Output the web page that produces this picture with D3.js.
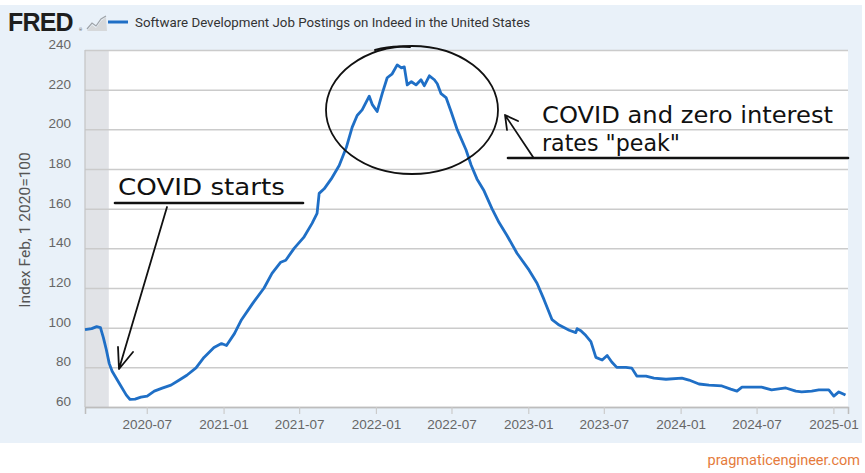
<!DOCTYPE html>
<html>
<head>
<meta charset="utf-8">
<script src="https://cdn.jsdelivr.net/npm/d3@7"></script>
<style>
    body { margin: 0; background: #fff; }
    svg { display: block; font-family: "Roboto", "Liberation Sans", sans-serif; }
</style>
</head>
<body>
<svg id="chart" width="865" height="473"></svg>
<script>
// values (index, Feb 1 2020 = 100)
const dates = [
    "2020-02-04", "2020-02-20", "2020-03-03", "2020-03-12", "2020-03-19", "2020-03-26", "2020-04-02",
    "2020-04-09", "2020-04-26", "2020-05-13", "2020-05-22", "2020-06-03", "2020-06-17", "2020-07-02",
    "2020-07-19", "2020-08-07", "2020-08-28", "2020-09-16", "2020-10-05", "2020-10-27", "2020-11-15",
    "2020-12-09", "2020-12-27", "2021-01-08", "2021-01-27", "2021-02-13", "2021-03-11", "2021-04-08",
    "2021-04-27", "2021-05-18", "2021-05-30", "2021-06-19", "2021-07-12", "2021-08-01", "2021-08-13",
    "2021-08-18", "2021-08-30", "2021-09-16", "2021-10-05", "2021-10-22", "2021-11-05", "2021-11-17",
    "2021-11-29", "2021-12-16", "2021-12-23", "2022-01-04", "2022-01-16", "2022-01-28", "2022-02-09",
    "2022-02-21", "2022-03-03", "2022-03-10", "2022-03-17", "2022-03-27", "2022-04-07", "2022-04-19",
    "2022-04-27", "2022-05-09", "2022-05-21", "2022-05-28", "2022-06-06", "2022-06-18", "2022-06-30",
    "2022-07-15", "2022-08-05", "2022-08-17", "2022-08-31", "2022-09-17", "2022-10-06", "2022-10-23",
    "2022-11-11", "2022-12-05", "2023-01-03", "2023-01-22", "2023-02-08", "2023-02-27", "2023-03-16",
    "2023-04-09", "2023-04-25", "2023-04-28", "2023-05-07", "2023-05-19", "2023-05-31", "2023-06-12",
    "2023-06-27", "2023-07-09", "2023-07-20", "2023-08-01", "2023-08-23", "2023-09-06", "2023-09-18",
    "2023-10-10", "2023-10-29", "2023-11-27", "2024-01-04", "2024-01-21", "2024-02-14", "2024-03-09",
    "2024-04-09", "2024-04-30", "2024-05-15", "2024-05-27", "2024-06-20", "2024-07-13", "2024-08-06",
    "2024-09-09", "2024-10-03", "2024-10-17", "2024-11-10", "2024-11-27", "2024-12-21", "2025-01-02",
    "2025-01-14", "2025-01-30"
];
const postings = [
    99, 99.5, 100.5, 100, 95, 89, 82,
    78, 72, 66, 63.8, 64, 65, 65.5,
    68, 69.5, 71, 73.5, 76, 79.7, 85,
    90, 92, 91, 97, 104, 112, 120,
    127.4, 133, 134, 140, 145.5, 152.6, 157.6,
    167.7, 170, 175, 181.8, 190.8, 201, 207,
    209.8, 216.7, 212.6, 209, 218, 226, 228,
    232.5, 231, 231.5, 222.4, 224, 222.4, 225,
    222, 227, 225, 223, 218, 216, 209,
    199.7, 189.6, 182, 175, 169, 160, 153,
    146.5, 137.5, 129, 122.4, 114, 104, 101.3,
    98.7, 97.5, 99.5, 98.5, 96, 93, 85,
    83.7, 86, 82.7, 80, 80, 79.6, 75.6,
    75.6, 74.6, 74, 74.6, 73.6, 71.6, 71,
    70.6, 69, 68, 70, 70, 70, 68.6,
    69.6, 68, 67.6, 68, 68.6, 68.6, 65.5,
    67.6, 66
];
const yTicks = [60, 80, 100, 120, 140, 160, 180, 200, 220, 240];
const xTickLabels = ["2020-07", "2021-01", "2021-07", "2022-01", "2022-07", "2023-01", "2023-07", "2024-01", "2024-07", "2025-01"];
const recession = ["2020-02-01", "2020-04-01"];

const parse = d3.timeParse("%Y-%m-%d");
const series = dates.map((d, i) => ({ date: parse(d), value: postings[i] }));

const svg = d3.select("#chart");
const plotL = 85, plotR = 848, plotT = 50, plotB = 407;

const x = d3.scaleTime()
    .domain([parse("2020-02-04"), parse("2025-02-05")])
    .range([plotL, plotR]);
const y = d3.scaleLinear()
    .domain([60, 240])
    .range([plotB, plotT]);

// light blue FRED panel
svg.append("rect")
    .attr("x", 0).attr("y", 5)
    .attr("width", 862).attr("height", 438)
    .attr("fill", "#e9f1f9");

// plot area
svg.append("rect")
    .attr("x", plotL).attr("y", plotT)
    .attr("width", plotR - plotL).attr("height", plotB - plotT)
    .attr("fill", "#fff");

// recession shading
svg.append("rect")
    .attr("x", plotL)
    .attr("y", plotT)
    .attr("width", x(parse(recession[1])) - plotL)
    .attr("height", plotB - plotT)
    .attr("fill", "#e1e3e7");

// horizontal grid + y labels
const yAxis = svg.append("g")
    .attr("transform", `translate(${plotL},0)`)
    .call(d3.axisLeft(y).tickValues(yTicks).tickSize(-(plotR - plotL)).tickPadding(14));
yAxis.select(".domain").remove();
yAxis.selectAll(".tick line").attr("stroke", "#cbcbcb").attr("stroke-width", 1.5);
yAxis.selectAll(".tick text")
    .attr("dy", "-0.1em")
    .attr("fill", "#666")
    .attr("font-size", 13.5);

// x axis with ticks hanging below baseline
const xAxis = svg.append("g")
    .attr("transform", `translate(0,${plotB})`)
    .call(d3.axisBottom(x)
        .tickValues(xTickLabels.map(s => parse(s + "-01")))
        .tickFormat(d3.timeFormat("%Y-%m"))
        .tickSize(7)
        .tickPadding(5));
xAxis.select(".domain").attr("stroke", "#bdbdbd").attr("stroke-width", 1.5);
xAxis.selectAll(".tick line").attr("stroke", "#cbcbcb").attr("stroke-width", 1.2);
xAxis.selectAll(".tick text").attr("fill", "#666").attr("font-size", 13.5);

// left border of plot
svg.append("line")
    .attr("x1", plotL).attr("x2", plotL)
    .attr("y1", plotT).attr("y2", plotB)
    .attr("stroke", "#c4c4c4").attr("stroke-width", 1.2);

// y axis title
svg.append("text")
    .attr("transform", "translate(30,230) rotate(-90)")
    .attr("text-anchor", "middle")
    .attr("fill", "#555")
    .attr("font-size", 15.5)
    .text("Index Feb, 1 2020=100");

// the series
const line = d3.line()
    .x(d => x(d.date))
    .y(d => y(d.value));

svg.append("path")
    .datum(series)
    .attr("fill", "none")
    .attr("stroke", "#1f6fc6")
    .attr("stroke-width", 2.8)
    .attr("stroke-linejoin", "round")
    .attr("d", line);

// header: logo + legend
svg.append("text")
    .attr("x", 8).attr("y", 31)
    .attr("font-family", "'Liberation Sans', Arial, sans-serif")
    .attr("font-weight", 900)
    .attr("font-size", 25)
    .attr("letter-spacing", -0.8)
    .attr("fill", "#1e1e1e")
    .text("FRED");
svg.append("text")
    .attr("x", 79).attr("y", 31)
    .attr("font-size", 4)
    .attr("fill", "#444")
    .text("®");
// tiny chart icon
const icon = svg.append("g").attr("transform", "translate(86,16)");
icon.append("path")
    .attr("d", "M1,15 L6,9 L10,12 L15,5 L20,1 L21,15 Z")
    .attr("fill", "#d6d8da");
icon.append("path")
    .attr("d", "M1,13 L6,7 L10,10 L15,3 L20,0")
    .attr("fill", "none").attr("stroke", "#9ea3a8").attr("stroke-width", 1.2);

svg.append("line")
    .attr("x1", 108).attr("x2", 128)
    .attr("y1", 22).attr("y2", 22)
    .attr("stroke", "#1f6fc6").attr("stroke-width", 3);
svg.append("text")
    .attr("x", 135).attr("y", 27)
    .attr("font-size", 13.3)
    .attr("fill", "#333")
    .text("Software Development Job Postings on Indeed in the United States");

// hand-drawn annotations
const ink = "#111";
const hand = "'DejaVu Sans', sans-serif";
const notes = svg.append("g").attr("fill", "none").attr("stroke", ink).attr("stroke-linecap", "round");

notes.append("ellipse")
    .attr("cx", 412).attr("cy", 110)
    .attr("rx", 86).attr("ry", 64)
    .attr("stroke-width", 1.8);
notes.append("path")
    .attr("d", "M375,50 Q392,45 410,47")
    .attr("stroke-width", 2);

// "COVID starts"
notes.append("line")
    .attr("x1", 115).attr("x2", 303).attr("y1", 203).attr("y2", 203)
    .attr("stroke-width", 2.6);
notes.append("path")
    .attr("d", "M167,207 L119,369 M118,347 L119,369 L133,352")
    .attr("stroke-width", 1.8)
    .attr("stroke-linejoin", "round");

// "COVID and zero interest rates peak"
notes.append("line")
    .attr("x1", 508).attr("x2", 848).attr("y1", 158).attr("y2", 158)
    .attr("stroke-width", 2.6);
notes.append("path")
    .attr("d", "M533,157 L505,115 M518,121 L505,115 L507,130")
    .attr("stroke-width", 1.8)
    .attr("stroke-linejoin", "round");

const handText = [
    { t: "COVID starts", x: 118, y: 195, w: 167 },
    { t: "COVID and zero interest", x: 542, y: 123, w: 291 },
    { t: "rates \"peak\"", x: 542, y: 151, w: 138 }
];
svg.append("g").selectAll("text")
    .data(handText)
    .enter().append("text")
    .attr("x", d => d.x).attr("y", d => d.y)
    .attr("font-family", hand)
    .attr("font-size", 23)
    .attr("fill", ink)
    .attr("textLength", d => d.w)
    .attr("lengthAdjust", "spacingAndGlyphs")
    .text(d => d.t);

// watermark
svg.append("text")
    .attr("x", 860).attr("y", 465)
    .attr("text-anchor", "end")
    .attr("font-size", 14.5)
    .attr("fill", "#e57b3c")
    .text("pragmaticengineer.com");
</script>
</body>
</html>
